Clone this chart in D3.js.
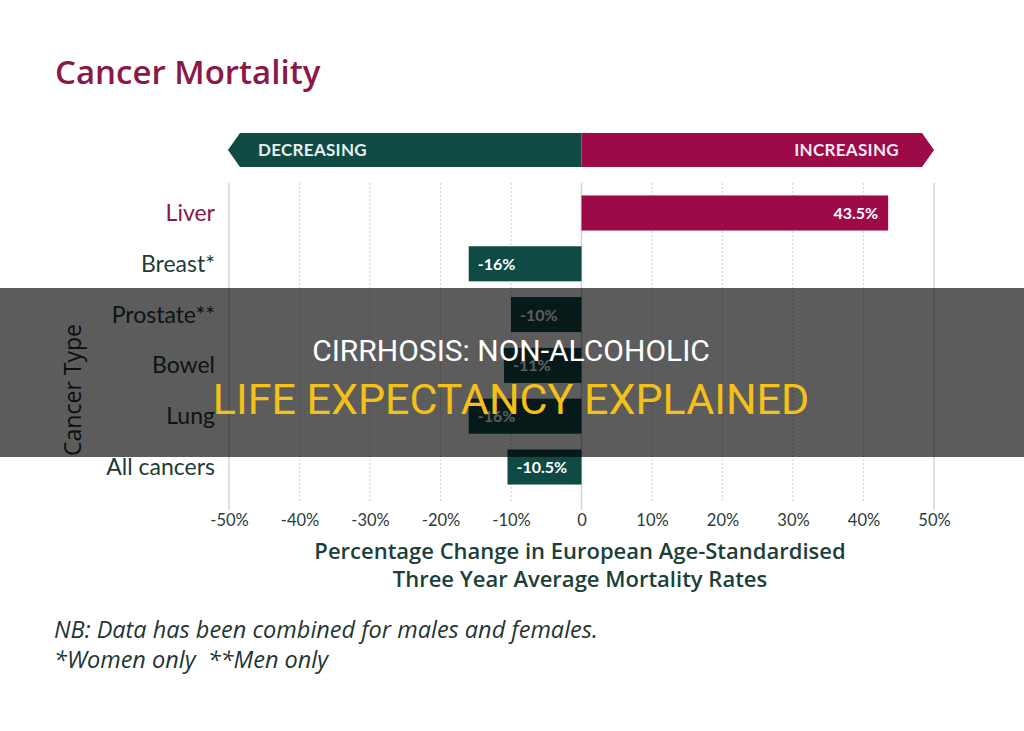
<!DOCTYPE html>
<html>
<head>
<meta charset="utf-8">
<script src="https://cdn.jsdelivr.net/npm/d3@7"></script>
<style>
  html, body { margin: 0; padding: 0; background: #ffffff; }
  svg { display: block; }
</style>
</head>
<body>
<svg id="chart" width="1024" height="731"></svg>
<script>
const categories = ["Liver", "Breast*", "Prostate**", "Bowel", "Lung", "All cancers"];
const values = [43.5, -16, -10, -11, -16, -10.5];
const valueLabels = ["43.5%", "-16%", "-10%", "-11%", "-16%", "-10.5%"];
const tickValues = [-50, -40, -30, -20, -10, 0, 10, 20, 30, 40, 50];
const tickLabels = ["-50%", "-40%", "-30%", "-20%", "-10%", "0", "10%", "20%", "30%", "40%", "50%"];
const directionLabels = ["DECREASING", "INCREASING"];
const titleText = "Cancer Mortality";
const yTitle = "Cancer Type";
const xTitleLines = ["Percentage Change in European Age-Standardised", "Three Year Average Mortality Rates"];
const notes = ["NB: Data has been combined for males and females.", "*Women only  **Men only"];
const bannerLines = ["CIRRHOSIS: NON-ALCOHOLIC", "LIFE EXPECTANCY EXPLAINED"];

const RED = "#9c0a48";
const GREEN = "#0f4a45";
const TEXT = "#1f3a37";
const FONT = "Lato, 'Open Sans', sans-serif";
const FONT2 = "'Open Sans', Lato, sans-serif";

const svg = d3.select("#chart");

const x = d3.scaleLinear().domain([-50, 50]).range([229, 934]);
const y = d3.scaleBand().domain(categories).range([187.6, 492.4]).paddingInner(0.31).paddingOuter(0.155);

// title
svg.append("text").attr("x", 55).attr("y", 84)
  .attr("font-family", FONT2).attr("font-weight", 600).attr("font-size", 33)
  .attr("fill", "#8a1848").text(titleText);

// header arrows
const hy0 = 133, hy1 = 167, hmid = (hy0 + hy1) / 2;
const x0 = x(0);
svg.append("path")
  .attr("d", `M${x(-50) - 1},${hmid} L${x(-50) + 11},${hy0} L${x0},${hy0} L${x0},${hy1} L${x(-50) + 11},${hy1} Z`)
  .attr("fill", GREEN);
svg.append("path")
  .attr("d", `M${x0},${hy0} L${x(50) - 12},${hy0} L${x(50)},${hmid} L${x(50) - 12},${hy1} L${x0},${hy1} Z`)
  .attr("fill", RED);
svg.append("text").attr("x", 258).attr("y", hmid + 6)
  .attr("font-family", FONT).attr("font-weight", 700).attr("font-size", 17)
  .attr("fill", "#e8f0ee").attr("letter-spacing", 0.3).text(directionLabels[0]);
svg.append("text").attr("x", 899).attr("y", hmid + 6).attr("text-anchor", "end")
  .attr("font-family", FONT).attr("font-weight", 700).attr("font-size", 17)
  .attr("fill", "#f6e9ef").attr("letter-spacing", 0.3).text(directionLabels[1]);

// gridlines
const grid = svg.append("g");
tickValues.forEach(t => {
  const solid = (t === -50 || t === 0 || t === 50);
  grid.append("line")
    .attr("x1", x(t)).attr("x2", x(t))
    .attr("y1", 183).attr("y2", solid ? 510 : 503)
    .attr("stroke", solid ? "#cfd4d3" : "#d2d6d5")
    .attr("stroke-width", solid ? 1.5 : 1.2)
    .attr("stroke-dasharray", solid ? null : "2,2");
});

// bars
svg.append("g").selectAll("rect").data(categories).join("rect")
  .attr("x", (d, i) => x(Math.min(0, values[i])))
  .attr("width", (d, i) => Math.abs(x(values[i]) - x(0)))
  .attr("y", d => y(d))
  .attr("height", y.bandwidth())
  .attr("fill", (d, i) => values[i] >= 0 ? RED : GREEN);

// bar labels
svg.append("g").selectAll("text").data(categories).join("text")
  .attr("x", (d, i) => values[i] >= 0 ? x(values[i]) - 10 : x(values[i]) + 9)
  .attr("y", d => y(d) + y.bandwidth() / 2 + 6)
  .attr("text-anchor", (d, i) => values[i] >= 0 ? "end" : "start")
  .attr("font-family", FONT).attr("font-weight", 700).attr("font-size", 16)
  .attr("fill", "#ffffff")
  .text((d, i) => valueLabels[i]);

// category labels
svg.append("g").selectAll("text").data(categories).join("text")
  .attr("x", 215)
  .attr("y", d => y(d) + y.bandwidth() / 2 + 8)
  .attr("text-anchor", "end")
  .attr("font-family", FONT).attr("font-size", 23)
  .attr("fill", (d, i) => i === 0 ? "#8a1848" : TEXT)
  .text(d => d);

// x axis tick labels
const xAxis = d3.axisBottom(x).tickValues(tickValues)
  .tickFormat((d, i) => tickLabels[i]).tickSize(0).tickPadding(0);
const ax = svg.append("g").attr("transform", "translate(0,526)").call(xAxis);
ax.select(".domain").remove();
ax.selectAll("text").attr("font-family", FONT).attr("font-size", 16.5).attr("fill", "#2b3b3a").attr("dy", 0);

// x title
xTitleLines.forEach((l, i) => {
  svg.append("text").attr("x", 580).attr("y", 559 + i * 28).attr("text-anchor", "middle")
    .attr("font-family", FONT2).attr("font-weight", 600).attr("font-size", 22)
    .attr("fill", "#1c3f3a").text(l);
});

// y title
svg.append("text").attr("transform", "translate(81,390) rotate(-90)").attr("text-anchor", "middle")
  .attr("font-family", FONT2).attr("font-size", 23).attr("fill", "#1c2b2a").text(yTitle);

// notes
notes.forEach((l, i) => {
  svg.append("text").attr("x", 54).attr("y", 638 + i * 30)
    .attr("font-family", FONT2).attr("font-style", "italic").attr("font-size", 23.5)
    .attr("fill", "#1f3634").attr("xml:space", "preserve").style("white-space", "pre").text(l);
});

// overlay banner
svg.append("rect").attr("x", 0).attr("y", 288).attr("width", 1024).attr("height", 169)
  .attr("fill", "#000000").attr("fill-opacity", 0.64);
svg.append("text").attr("x", 511).attr("y", 361).attr("text-anchor", "middle")
  .attr("font-family", "Roboto, 'Liberation Sans', sans-serif").attr("font-size", 30)
  .attr("fill", "#ffffff").text(bannerLines[0]);
svg.append("text").attr("x", 511).attr("y", 414).attr("text-anchor", "middle")
  .attr("font-family", "Roboto, 'Liberation Sans', sans-serif").attr("font-size", 43)
  .attr("fill", "#f5c018").text(bannerLines[1]);
</script>
</body>
</html>
